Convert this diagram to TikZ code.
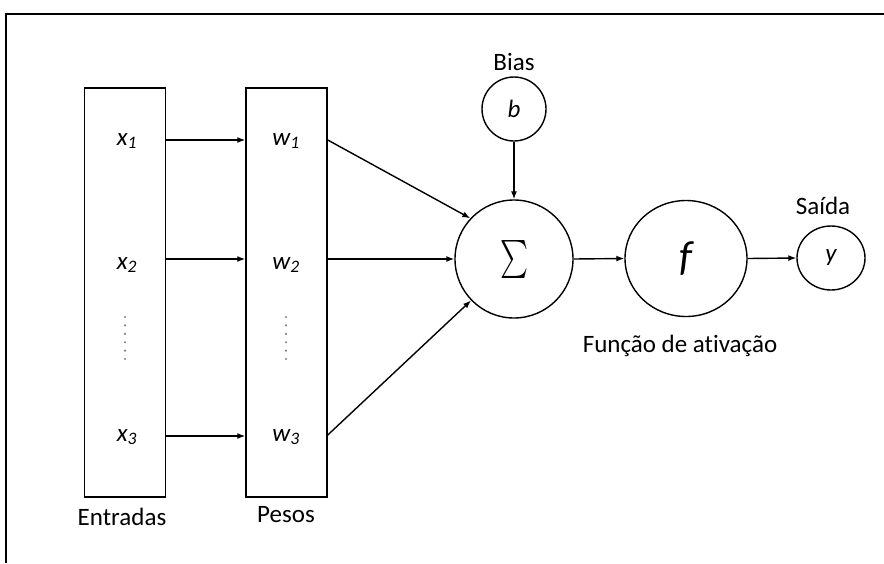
\documentclass[tikz,border=0pt]{standalone}
\usepackage{fontspec}
\usepackage{graphicx}
\setmainfont{Carlito}[Ligatures=NoCommon]
\usetikzlibrary{arrows.meta,shapes.geometric}
\begin{document}
\begin{tikzpicture}[x=1pt,y=-1pt,
  lbl/.style={font=\fontsize{25}{28}\selectfont, inner sep=0pt},
  var/.style={font=\fontsize{25}{28}\selectfont\itshape, inner sep=0pt},
  col/.style={draw, line width=1.5pt, minimum width=81pt, minimum height=409pt, inner sep=0pt},
  circ/.style={draw, line width=1.4pt, circle, inner sep=0pt},
  oval/.style={draw, line width=1.4pt, ellipse, inner sep=0pt},
  arr/.style={line width=1.4pt, -{Latex[length=8pt,width=6pt]}},
  dotc/.style={fill=gray, draw=none}
]
\useasboundingbox (0,0) rectangle (884,563);
\fill[white] (0,0) rectangle (884,563);
% frame
\draw[line width=2.4pt] (6,563) -- (6,14) -- (884,14);
% columns
\node[col] (ent) at (125,292.5) {};
\node[col] (pes) at (286.5,292.5) {};
\node[lbl] (lent) at (122,517) {Entradas};
\node[lbl] (lpes) at (286,515) {Pesos};
% variables
\node[var] (x1) at (127,141) {x\textsubscript{1}};
\node[var] (x2) at (127,265) {x\textsubscript{2}};
\node[var] (x3) at (127,437) {x\textsubscript{3}};
\node[var] (w1) at (286,141) {w\textsubscript{1}};
\node[var] (w2) at (286,265) {w\textsubscript{2}};
\node[var] (w3) at (286,437) {w\textsubscript{3}};
% dots
\foreach \yy in {317,325.4,333.8,342.2,350.6,359}{
  \fill[dotc] (125,\yy) circle (1.2pt);
  \fill[dotc] (286,\yy) circle (1.2pt);
}
% input arrows
\draw[arr] (ent.east |- 0,140) -- (pes.west |- 0,140);
\draw[arr] (ent.east |- 0,259) -- (pes.west |- 0,259);
\draw[arr] (ent.east |- 0,436) -- (pes.west |- 0,436);
% circles
\node[circ, minimum size=118pt] (sig) at (514,259) {\resizebox*{28pt}{38pt}{$\sum$}};
\node[circ, minimum size=64pt, font=\fontsize{25}{28}\selectfont\itshape] (b) at (514,109) {b};
\node[lbl] (lbias) at (514,62) {Bias};
\node[oval, minimum width=122pt, minimum height=116pt, font=\fontsize{42}{46}\selectfont\itshape] (f) at (686,258.5) {f};
\node[oval, minimum width=68pt, minimum height=64pt, font=\fontsize{25}{28}\selectfont\itshape] (y) at (831,258) {y};
\node[lbl] (lsaida) at (823,206) {Saída};
\node[lbl] (lfun) at (680,346) {Função de ativação};
% arrows to sum
\draw[arr] (pes.east |- 0,140) -- (sig.137);
\draw[arr] (pes.east |- 0,259) -- (sig.west);
\draw[arr] (pes.east |- 0,435) -- (sig.224);
\draw[arr] (b.south) -- (sig.north);
\draw[arr] (sig.east) -- (f.west);
\draw[arr] (f.east) -- (y.west);
\end{tikzpicture}
\end{document}
